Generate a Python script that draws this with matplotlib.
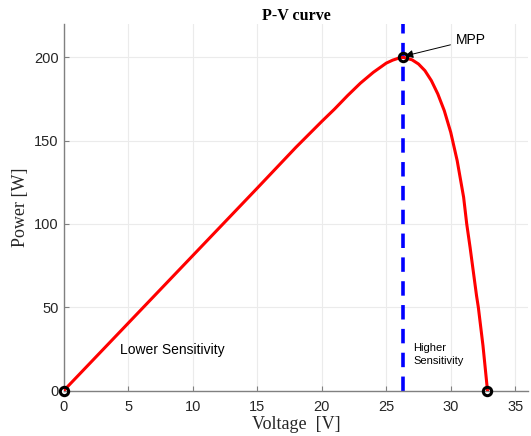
import matplotlib
matplotlib.use("Agg")
import matplotlib.pyplot as plt

# Data
voltage = [0, 5, 10, 15, 18, 20, 21, 22, 23, 24, 25, 25.5, 26, 26.3,
           27.0, 27.5, 28.0, 28.5, 29.0, 29.5, 30.0, 30.5, 31.0, 31.24,
           31.5, 32.0, 32.14, 32.5, 32.85]
power = [0, 40.5, 81, 121.5, 146, 161.5, 169, 177, 184.5, 191, 196.5, 198.3, 199.6, 200,
         198.5, 196, 192, 186, 178, 168, 155, 138, 116, 100,
         86, 57, 50, 27, 0]

mpp_v, mpp_p = 26.3, 200
key_v = [0, 26.3, 32.85]
key_p = [0, 200, 0]

xticks = [0, 5, 10, 15, 20, 25, 30, 35]
yticks = [0, 50, 100, 150, 200]

fig = plt.figure(figsize=(5.31, 4.36), dpi=100)
ax = fig.add_axes([0.120, 0.104, 0.8746, 0.841])

ax.plot(voltage, power, color="red", lw=2.2, zorder=3)
ax.axvline(mpp_v, color="blue", lw=2.6, ls=(0, (4, 2.6)), zorder=2)
ax.plot(key_v, key_p, "o", mfc="none", mec="black", mew=2.2, ms=6, zorder=4,
        clip_on=False)

ax.annotate("MPP", xy=(26.45, 200.8), xytext=(30.4, 210.5),
            fontsize=10, family="Liberation Sans", va="center", ha="left",
            arrowprops=dict(arrowstyle="-|>", color="black", lw=0.7,
                            mutation_scale=12, shrinkA=2, shrinkB=0,
                            fc="black"))
ax.text(4.4, 24.4, "Lower Sensitivity", fontsize=10, family="Liberation Sans",
        va="center", ha="left")
ax.text(27.1, 21.5, "Higher\nSensitivity", fontsize=8, family="Liberation Sans",
        va="center", ha="left", linespacing=1.35)

ax.set_xlim(0, 36)
ax.set_ylim(0, 220)
ax.set_xticks(xticks)
ax.set_yticks(yticks)
ax.grid(True, color="#ebebeb", lw=0.8)
ax.set_axisbelow(True)
for s in ["top", "right"]:
    ax.spines[s].set_visible(False)
for s in ["left", "bottom"]:
    ax.spines[s].set_color("#808080")
    ax.spines[s].set_linewidth(1.0)
ax.tick_params(direction="in", length=3.5, color="#808080", labelsize=10.5,
               labelcolor="#262626")
ax.tick_params(axis="x", pad=7)
for lab in ax.get_xticklabels() + ax.get_yticklabels():
    lab.set_family("Liberation Sans")

ax.set_xlabel("Voltage  [V]", family="Liberation Serif", fontsize=13,
              color="#262626", labelpad=1)
ax.set_ylabel("Power [W]", family="Liberation Serif", fontsize=13,
              color="#262626", labelpad=4)
ax.set_title("P-V curve", family="Liberation Serif", fontweight="bold",
             fontsize=11.5, pad=3)

fig.savefig("out.png", dpi=100)
